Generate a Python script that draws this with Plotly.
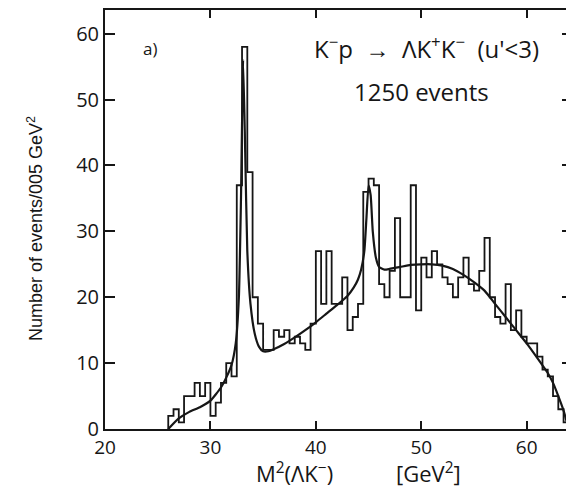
import plotly.graph_objects as go

# Histogram: bins of 0.05 GeV^2 starting at 2.60 GeV^2
bin_start = 2.60
bin_width = 0.05
counts = [2, 3, 1, 5, 5, 7, 5, 7, 2, 4, 7, 10, 8,
          37, 58, 39,
          20, 16, 12, 12, 15, 14, 15, 13, 14, 13, 12, 16,
          27, 19, 27, 19, 19, 23, 15, 17, 19,
          36, 38, 37,
          22, 20, 24, 32, 20, 20, 37, 18, 26, 23, 27, 25, 23, 22, 20, 23, 26, 22, 21, 24, 29,
          20, 17, 16, 22, 15, 18, 14, 13, 13, 11, 9, 8, 5, 3, 1]

# Fitted curve
curve_x = [2.60, 2.70, 2.80, 2.90, 3.00, 3.10, 3.15, 3.20, 3.24, 3.27,
           3.29, 3.31, 3.33, 3.35, 3.38, 3.42, 3.46, 3.50, 3.55, 3.60,
           3.70, 3.80, 3.90, 4.00, 4.10, 4.20, 4.30, 4.36, 4.40, 4.43,
           4.46, 4.48, 4.50, 4.52, 4.54, 4.57, 4.60, 4.65, 4.70, 4.80,
           4.90, 5.00, 5.10, 5.20, 5.30, 5.40, 5.50, 5.60, 5.70, 5.80,
           5.90, 6.00, 6.10, 6.20, 6.25, 6.30, 6.35, 6.39]
curve_y = [0, 1.6, 2.6, 3.3, 4.3, 6.3, 7.8, 9.7, 13, 20,
           35, 56, 42, 27, 19, 14.5, 12.5, 11.8, 11.8, 12.1,
           12.9, 13.9, 15.0, 16.2, 17.5, 18.8, 20.2, 21.5, 22.7, 24.2,
           27, 32, 37, 35.5, 30, 26, 24.6, 24.2, 24.3, 24.6,
           24.9, 25, 25, 24.8, 24.3, 23.4, 22.3, 21, 19, 17,
           15, 13, 10.8, 8.5, 7, 5, 2.8, 0.5]

x_tickvals = [2, 3, 4, 5, 6]
x_ticktext = ["20", "30", "40", "50", "60"]
y_tickvals = [0, 10, 20, 30, 40, 50, 60]
y_ticktext = ["0", "10", "20", "30", "40", "50", "60"]

edges = [bin_start + bin_width * k for k in range(len(counts) + 1)]
hx = [edges[0]] + edges
hy = [0] + counts + [0]

INK = "#161616"
FONT = "Open Sans"

fig = go.Figure()
fig.add_trace(go.Scatter(x=hx, y=hy, mode="lines", line=dict(shape="hv", color=INK, width=1.8),
                         hoverinfo="skip", showlegend=False))
fig.add_trace(go.Scatter(x=curve_x, y=curve_y, mode="lines",
                         line=dict(shape="spline", smoothing=0.5, color=INK, width=2.2),
                         hoverinfo="skip", showlegend=False))

# page body has an 8px margin, so the figure is sized/offset to fit the 574x488 window
fig.update_layout(
    width=566, height=480,
    margin=dict(l=97, r=2, t=2, b=59, autoexpand=False),
    paper_bgcolor="white", plot_bgcolor="white",
    font=dict(family=FONT, color=INK, size=20),
    xaxis=dict(range=[2.0, 6.43], tickvals=x_tickvals, ticktext=x_ticktext,
               ticks="inside", ticklen=8, tickwidth=1.5, tickcolor=INK,
               showline=True, linecolor=INK, linewidth=2, mirror="ticks",
               showgrid=False, zeroline=False,
               tickfont=dict(size=19, family=FONT, color=INK)),
    yaxis=dict(range=[0, 63.6], tickvals=y_tickvals, ticktext=y_ticktext,
               ticks="inside", ticklen=10, tickwidth=1.5, tickcolor=INK,
               showline=True, linecolor=INK, linewidth=2, mirror="ticks",
               showgrid=False, zeroline=False,
               tickfont=dict(size=20, family=FONT, color=INK)),
    annotations=[
        dict(text="a)", x=2.43, y=57.8, xref="x", yref="y", showarrow=False,
             font=dict(size=17, family=FONT, color=INK)),
        dict(text="K<sup>−</sup>p  →  ΛK<sup>+</sup>K<sup>−</sup>  (u'&lt;3)", x=5.05, y=57.9,
             xref="x", yref="y", showarrow=False, font=dict(size=24, family=FONT, color=INK)),
        dict(text="1250 events", x=5.0, y=51.2, xref="x", yref="y", showarrow=False,
             font=dict(size=24, family=FONT, color=INK)),
        dict(text="M<sup>2</sup>(ΛK<sup>−</sup>)", x=3.80, y=-0.105,
             xref="x", yref="paper", showarrow=False, yanchor="middle", xanchor="center",
             font=dict(size=22, family=FONT, color=INK)),
        dict(text="[GeV<sup>2</sup>]", x=5.07, y=-0.105,
             xref="x", yref="paper", showarrow=False, yanchor="middle", xanchor="center",
             font=dict(size=22, family=FONT, color=INK)),
        dict(text="Number of events/005 GeV<sup>2</sup>", x=-0.15, y=30.5, xref="paper", yref="y",
             showarrow=False, textangle=-90, xanchor="center", yanchor="middle",
             font=dict(size=18, family="Liberation Sans", color=INK)),
    ],
)

fig.write_html("out.html")
